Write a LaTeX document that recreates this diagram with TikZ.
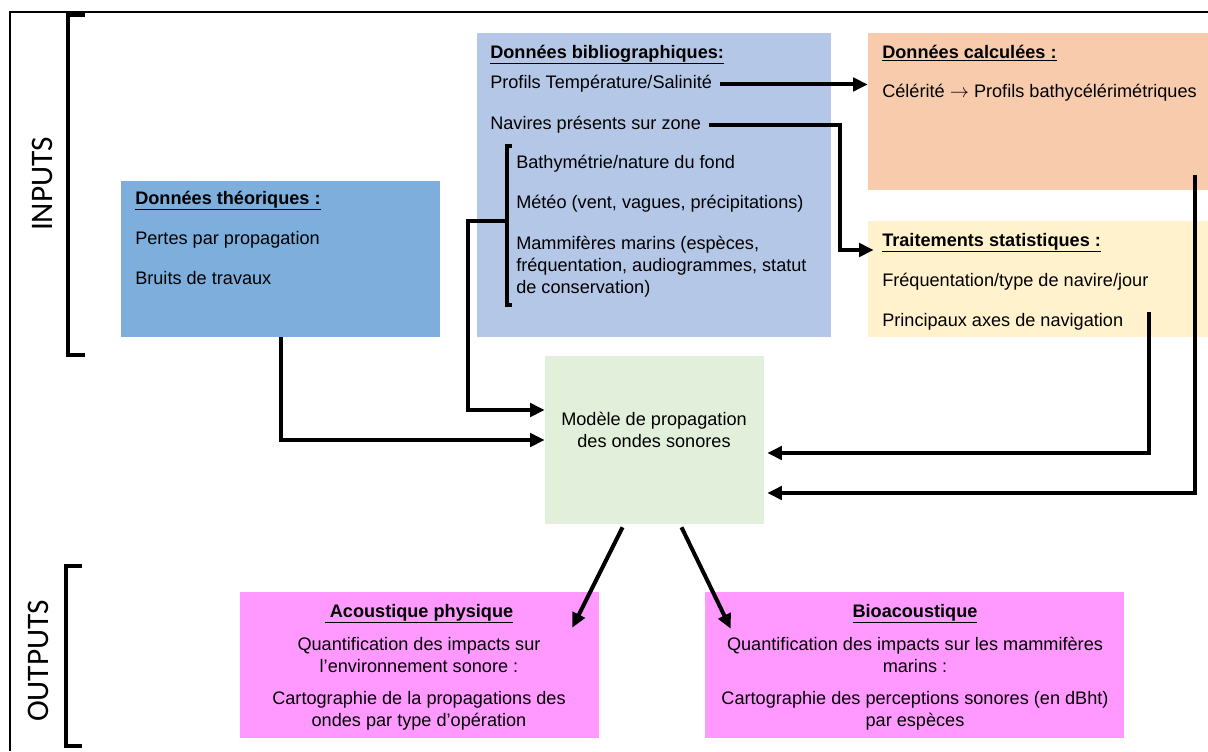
\documentclass[tikz,border=0pt]{standalone}
\usepackage{fontspec}
\setmainfont{Liberation Sans}
\newfontfamily\sidefont{Carlito}
\usetikzlibrary{arrows.meta,calc,fit}
\definecolor{theocol}{HTML}{7DAEDC}
\definecolor{bibcol}{HTML}{B4C7E7}
\definecolor{calccol}{HTML}{F8CBAD}
\definecolor{statcol}{HTML}{FFF2CC}
\definecolor{modcol}{HTML}{E2EFDA}
\definecolor{outcol}{HTML}{FF99FF}
\tikzstyle{box}=[rectangle, draw=none, inner sep=0pt]
\tikzstyle{txt}=[anchor=base west, inner sep=0pt, align=left]
\tikzstyle{ttl}=[txt, font=\fontsize{13.6}{16.5}\selectfont\bfseries]
\tikzstyle{side}=[rotate=90, font=\sidefont\fontsize{23.5}{28}\selectfont]
\tikzstyle{link}=[-{Triangle[length=11pt,width=10pt]}, line width=3pt]
\tikzstyle{brack}=[line width=3pt]
\tikzstyle{thinbrack}=[line width=2.4pt]

\begin{document}
\begin{tikzpicture}[x=0.75pt, y=-0.75pt, font=\fontsize{13.6}{16.5}\selectfont]
	\useasboundingbox (0,0) rectangle (1208,751);
	\draw[line width=1.5pt] (10,751) -- (10,12) -- (1208,12);
	% boxes
	\node[box, fill=theocol, fit={(121,181) (440,337)}] (theo) {};
	\node[box, fill=bibcol, fit={(477,33) (831,337)}] (bib) {};
	\node[box, fill=calccol, fit={(868,33) (1208,190)}] (calc) {};
	\node[box, fill=statcol, fit={(868,221) (1208,337)}] (stat) {};
	\node[box, fill=modcol, fit={(545,356) (764,524)}] (modele) {};
	\node[box, fill=outcol, fit={(240,592) (599,738)}] (acou) {};
	\node[box, fill=outcol, fit={(705,592) (1124,738)}] (bio) {};
	% inputs / outputs
	\node[side] (inputs) at (42,184) {INPUTS};
	\node[side] (outputs) at (38,661) {OUTPUTS};
	\draw[brack] (85,15) -- (68,15) -- (68,355) -- (85,355);
	\draw[brack] (82,566) -- (66,566) -- (66,746) -- (82,746);
	% texts
	\node[ttl] (theotitle) at (135,204) {\underline{Données théoriques :}};
	\node[txt] (pertes) at (135,244) {Pertes par propagation};
	\node[txt] (bruits) at (135,284) {Bruits de travaux};
	\node[ttl] (bibtitle) at (490,58) {\underline{Données bibliographiques:}};
	\node[txt] (profils) at (490,88) {Profils Température/Salinité};
	\node[txt] (navires) at (490,129) {Navires présents sur zone};
	\node[txt] (bathy) at (516,168) {Bathymétrie/nature du fond};
	\node[txt] (meteo) at (516,208) {Météo (vent, vagues, précipitations)};
	\node[txt] (mammi) at (516,293) {Mammifères marins (espèces,\\ fréquentation, audiogrammes, statut\\ de conservation)};
	\draw[thinbrack] (512,146) -- (507,146) -- (507,305) -- (512,305);
	\coordinate (bibbrk) at (507,221);
	\node[ttl] (calctitle) at (882,58) {\underline{Données calculées :}};
	\node[txt] (celerite) at (882,97) {Célérité $\rightarrow$ Profils bathycélérimétriques};
	\node[ttl] (stattitle) at (882,246) {\underline{Traitements statistiques :}};
	\node[txt] (frequ) at (882,286) {Fréquentation/type de navire/jour};
	\node[txt] (axes) at (882,326) {Principaux axes de navigation};
	\node[align=center] (modtxt) at (654,430) {Modèle de propagation\\ des ondes sonores};
	\node[ttl, anchor=base] (acoutitle) at (419,617) {\underline{\ Acoustique physique}};
	\node[txt, anchor=base, align=center] (acouimp) at (419,672) {Quantification des impacts sur\\ l’environnement sonore :};
	\node[txt, anchor=base, align=center] (acoucarto) at (419,726) {Cartographie de la propagations des\\ ondes par type d’opération};
	\node[ttl, anchor=base] (biotitle) at (915,617) {\underline{Bioacoustique}};
	\node[txt, anchor=base, align=center] (bioimp) at (915,672) {Quantification des impacts sur les mammifères\\ marins :};
	\node[txt, anchor=base, align=center] (biocarto) at (915,726) {Cartographie des perceptions sonores (en dBht)\\ par espèces};
	% connectors
	\coordinate (navbend) at (840,250);
	\coordinate (bibturn) at (468,221);
	\coordinate (axesout) at (1149,312);
	\coordinate (celout) at (1195,175);
	\draw[link] ($(profils.mid east)+(8,0)$) -- (profils.mid east -| calc.west);
	\draw[link] ($(navires.mid east)+(8,0)$) -| (navbend) -- ($(navbend -| stat.west)+(6,0)$);
	\draw[link] (bibbrk) -- (bibturn) |- ($(modele.west)+(0,-30)$);
	\draw[link] (theo.south) |- (modele.west);
	\draw[link] (axesout) |- ($(modele.east)+(3,13)$);
	\draw[link] (celout) |- ($(modele.east)+(3,53)$);
	\draw[link] ($(modele.south)+(-32,3)$) -- ($(acou.north east)+(-27,36)$);
	\draw[link] ($(modele.south)+(27,3)$) -- ($(bio.north west)+(26,37)$);
\end{tikzpicture}
\end{document}
